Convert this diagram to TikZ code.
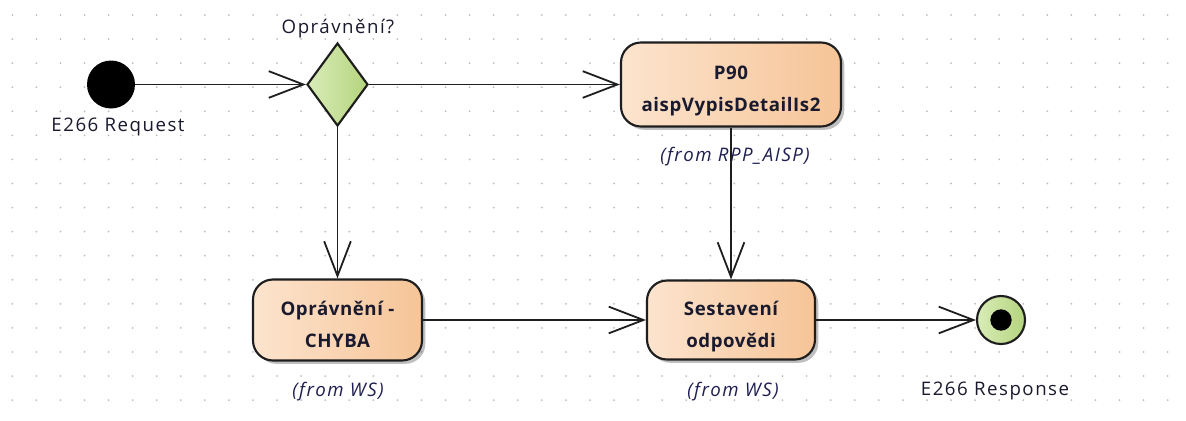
\documentclass[tikz,border=0pt]{standalone}
\usepackage{fontspec}
\setmainfont{Open Sans}
\newfontfamily\lblfont[LetterSpace=8]{Open Sans}
\newfontfamily\boxfont[LetterSpace=3]{Open Sans}
\usetikzlibrary{arrows.meta,shapes.geometric,shadows}
\definecolor{peachL}{HTML}{FCE4CE}
\definecolor{peachR}{HTML}{F6C497}
\definecolor{greenL}{HTML}{D9ECB8}
\definecolor{greenR}{HTML}{B4D47D}
\definecolor{edgec}{HTML}{1E1E1E}
\definecolor{dotc}{HTML}{BDBDBD}
\definecolor{txt}{HTML}{1A1A2E}
\definecolor{fromc}{HTML}{1E1E50}
\begin{document}
\begin{tikzpicture}[x=0.75pt,y=-0.75pt,
  lbl/.style={font=\lblfont\fontsize{14}{16}\selectfont, text=txt, anchor=base, inner sep=0pt},
  fromlbl/.style={font=\lblfont\itshape\fontsize{14}{16}\selectfont, text=fromc, anchor=base, inner sep=0pt},
  actbox/.style={draw=edgec, line width=1.6pt, rounded corners=15pt, left color=peachL, right color=peachR,
    drop shadow={shadow xshift=2.5pt, shadow yshift=-2.5pt, fill=black, opacity=.25},
    align=center, font=\boxfont\bfseries\fontsize{14}{23.8}\selectfont, text=txt,
    text depth=0pt, text height=40.5pt, inner sep=0pt},
  flow/.style={draw=edgec, line width=1.35pt, -{Straight Barb[length=26pt,width=20pt]}}
]
\fill[white] (0,0) rectangle (1186,421);
\useasboundingbox (0,0) rectangle (1186,421);
\foreach \i in {0,...,48}{
  \foreach \j in {0,...,16}{
    \fill[dotc] ({12.3+24.07*\i},{15+24.07*\j}) circle[radius=0.75pt];
  }
}
% nodes
\node[circle, fill=black, minimum size=36pt, inner sep=0pt] (start) at (111,84.5) {};
\node[lbl] (startlbl) at (118,131) {E266 Request};
\node[diamond, draw=edgec, line width=1.6pt, left color=greenL, right color=greenR,
  minimum width=45.75pt, minimum height=62.25pt, inner sep=0pt] (dec) at (337.5,84.5) {};
\node[lbl] (declbl) at (338,33) {Oprávnění?};
\node[actbox, minimum width=165pt, minimum height=63pt] (p90) at (731,84.5) {P90\\aispVypisDetailIs2};
\node[fromlbl] (p90from) at (735,161.7) {(from RPP\_AISP)};
\node[actbox, minimum width=126.75pt, minimum height=60.75pt] (chyba) at (337.5,320) {Oprávnění -\\CHYBA};
\node[fromlbl] (chybafrom) at (338,396.7) {(from WS)};
\node[actbox, minimum width=126pt, minimum height=59.25pt] (sest) at (731,320) {Sestavení\\odpovědi};
\node[fromlbl] (sestfrom) at (733,396.7) {(from WS)};
\node[circle, draw=edgec, line width=1.6pt, left color=greenL, right color=greenR,
  minimum size=36pt, inner sep=0pt,
  path picture={\fill[black] (path picture bounding box.center) circle[radius=8pt];}] (end) at (1001,320) {};
\node[lbl] (endlbl) at (995,395) {E266 Response};
% connectors
\draw[flow] (start) -- (dec);
\draw[flow] (dec) -- (p90);
\draw[flow] (dec) -- (chyba);
\draw[flow] (p90) -- (sest);
\draw[flow] (chyba) -- (sest);
\draw[flow] (sest) -- (end);
\end{tikzpicture}
\end{document}
